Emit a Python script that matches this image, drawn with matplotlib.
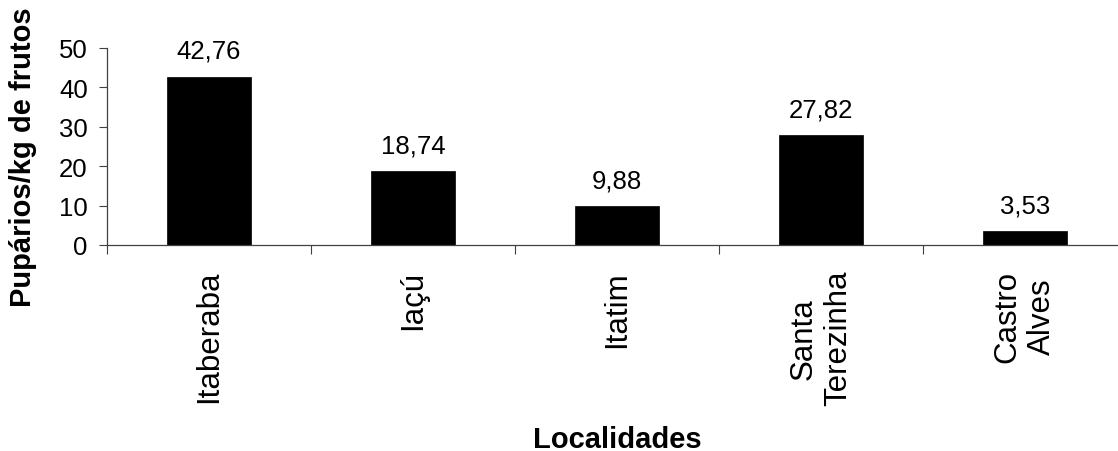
import matplotlib
matplotlib.use("Agg")
import matplotlib.pyplot as plt
import numpy as np

categories = ["Itaberaba", "Iaçú", "Itatim", "Santa\nTerezinha", "Castro\nAlves"]
values = [42.76, 18.74, 9.88, 27.82, 3.53]
value_labels = ["42,76", "18,74", "9,88", "27,82", "3,53"]
yticks = [0, 10, 20, 30, 40, 50]

plt.rcParams['font.family'] = ['Liberation Sans', 'DejaVu Sans']

W, H = 1118, 452
fig = plt.figure(figsize=(W / 100, H / 100), dpi=100)
ax = fig.add_axes([107 / W, 1 - 246 / H, (1127 - 107) / W, (246 - 49) / H])

x = np.arange(len(categories))
ax.bar(x, values, width=0.41, color='black', edgecolor='black', linewidth=0.5)

for xi, v, lab in zip(x, values, value_labels):
    ax.annotate(lab, (xi, v), xytext=(0, 19), textcoords='offset pixels',
                ha='center', va='baseline', fontsize=18.5, color='black')

ax.set_xlim(-0.5, len(categories) - 0.5)
ax.set_ylim(0, 50)
ax.set_yticks(yticks)
ax.set_yticklabels([str(t) for t in yticks])

ax.set_xticks(np.arange(-0.5, len(categories), 1.0))
ax.set_xticklabels([])
ax.set_xticks(x, minor=True)
ax.set_xticklabels(categories, minor=True, rotation=90, ha='center', va='top',
                   multialignment='center', fontsize=22.5)
ax.tick_params(axis='x', which='minor', length=0, pad=18.0)
ax.tick_params(axis='x', which='major', length=6.5, width=0.8, color='#404040', direction='out')
ax.tick_params(axis='y', length=5.8, width=0.8, color='#404040', direction='out',
               labelsize=18.5, pad=8.0)

for s in ['top', 'right']:
    ax.spines[s].set_visible(False)
for s in ['left', 'bottom']:
    ax.spines[s].set_color('#404040')
    ax.spines[s].set_linewidth(0.9)

fig.text(617 / W, 1 - 448 / H, "Localidades", ha='center', va='baseline',
         fontsize=21, fontweight='bold')
fig.text(23 / W, 1 - 157 / H, "Pupários/kg de frutos", ha='center', va='center',
         rotation=90, fontsize=21, fontweight='bold')

fig.savefig("out.png", dpi=100)
